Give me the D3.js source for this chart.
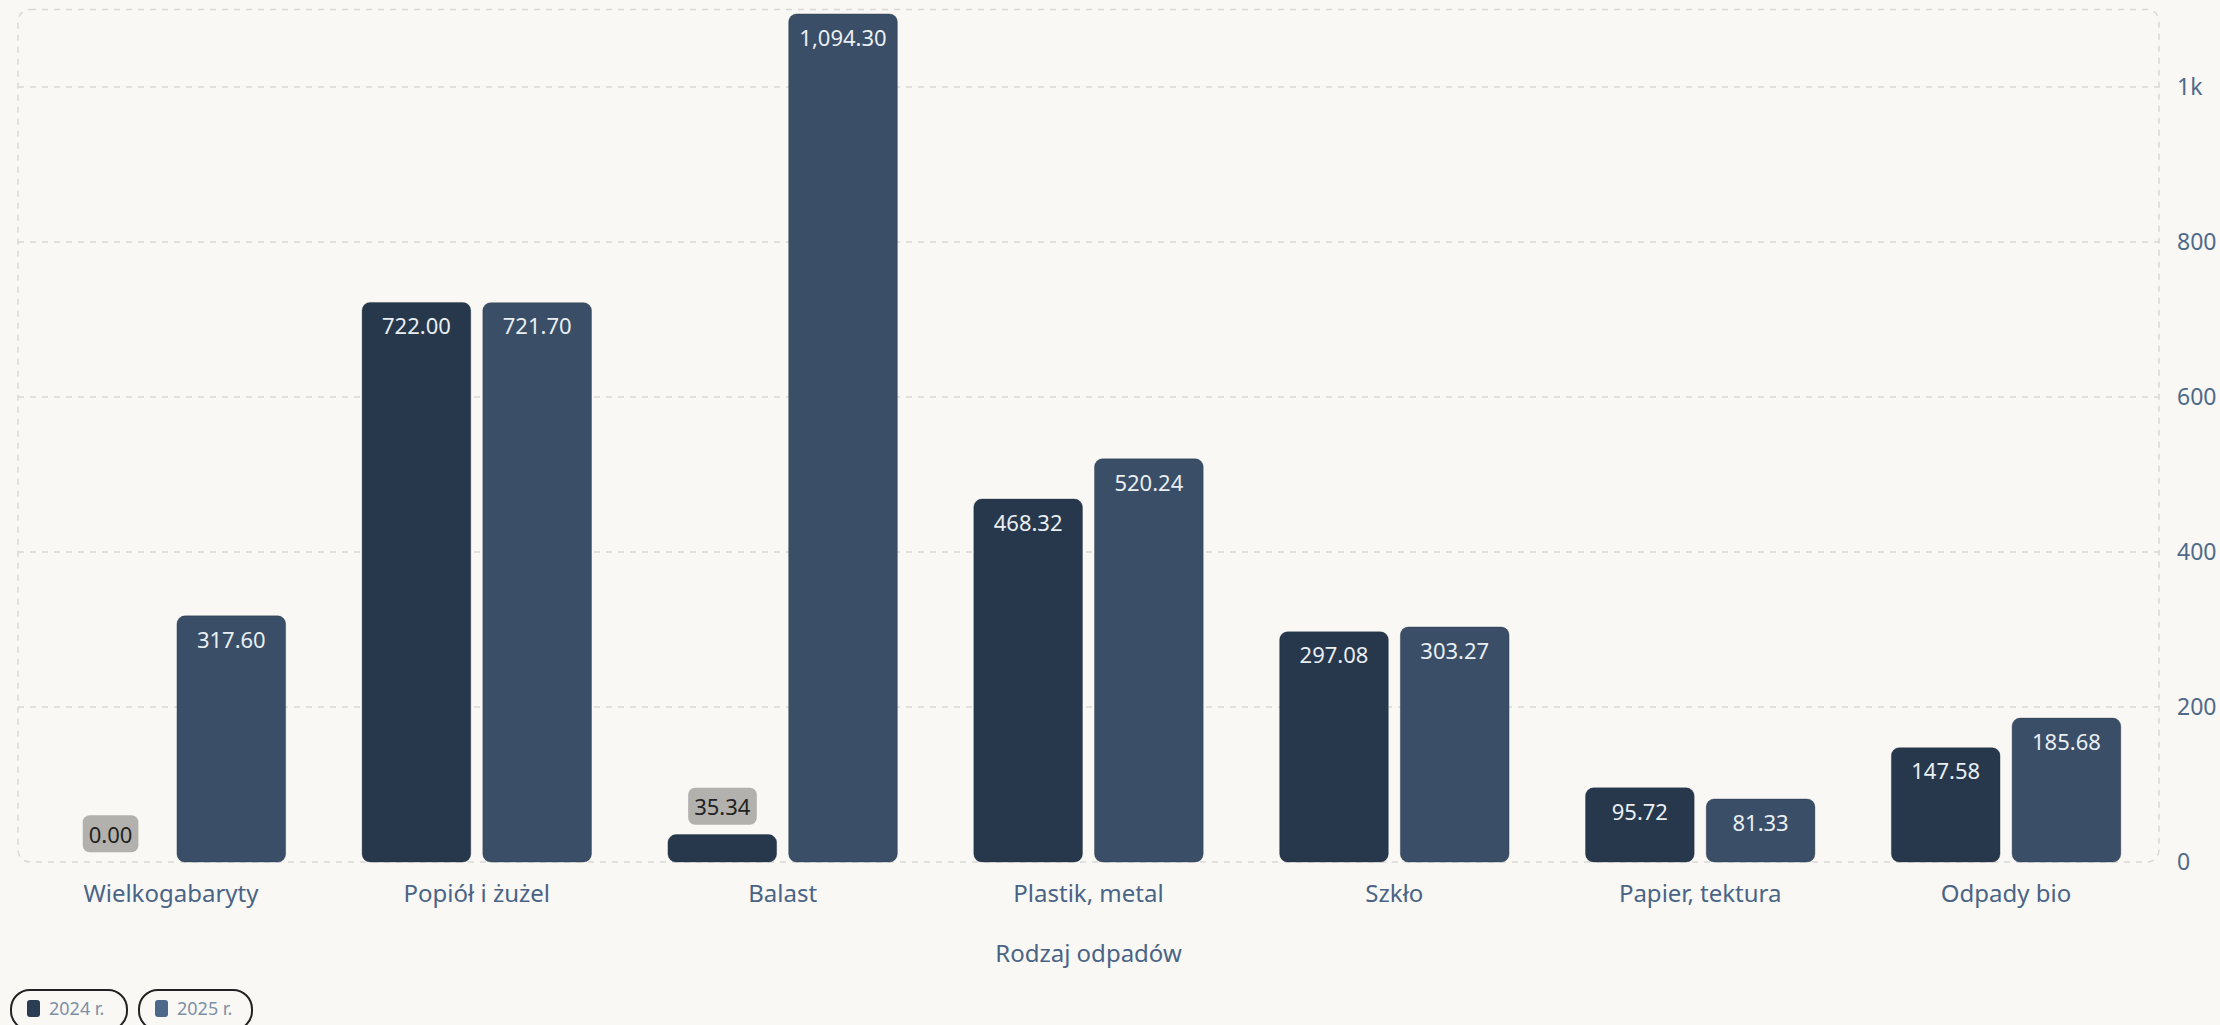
<!DOCTYPE html>
<html lang="pl">
<head>
  <meta charset="UTF-8">
  <title>Rodzaj odpadów</title>
  <script src="https://d3js.org/d3.v7.min.js"></script>
  <style>
    html, body {
      margin: 0;
      padding: 0;
      background: #f9f8f5;
    }
    svg {
      display: block;
      font-family: "Noto Sans", "Open Sans", sans-serif;
    }
  </style>
</head>
<body>
  <svg width="2220" height="1025"></svg>

  <script>
    // data
    const categories = ["Wielkogabaryty", "Popiół i żużel", "Balast", "Plastik, metal", "Szkło", "Papier, tektura", "Odpady bio"];
    const seriesNames = ["2024 r.", "2025 r."];
    const values2024 = [0.00, 722.00, 35.34, 468.32, 297.08, 95.72, 147.58];
    const values2025 = [317.60, 721.70, 1094.30, 520.24, 303.27, 81.33, 185.68];
    const yTicks = [0, 200, 400, 600, 800, 1000];
    const yTickLabels = ["0", "200", "400", "600", "800", "1k"];
    const colors = ["#27384c", "#3a4e67"];
    const swatchColors = ["#2b3d52", "#4d6888"];

    const plot = { left: 18, right: 2159, top: 9.5, bottom: 862 };

    const svg = d3.select("svg");

    const rows = categories.map((c, i) => ({
      category: c,
      values: [values2024[i], values2025[i]]
    }));

    const x0 = d3.scaleBand()
      .domain(categories)
      .range([plot.left, plot.right])
      .padding(0);

    const groupPad = x0.bandwidth() * 0.125;
    const x1 = d3.scaleBand()
      .domain(d3.range(seriesNames.length))
      .range([groupPad, x0.bandwidth() - groupPad])
      .paddingInner(0.1);

    const y = d3.scaleLinear()
      .domain([0, 1100])
      .range([plot.bottom, plot.top]);

    // grid lines
    svg.append("g")
      .selectAll("line")
      .data(yTicks.slice(1))
      .join("line")
      .attr("x1", plot.left)
      .attr("x2", plot.right)
      .attr("y1", d => y(d))
      .attr("y2", d => y(d))
      .attr("stroke", "#d9d8d5")
      .attr("stroke-width", 1.5)
      .attr("stroke-dasharray", "6,6");

    // plot frame
    svg.append("rect")
      .attr("x", plot.left)
      .attr("y", plot.top)
      .attr("width", plot.right - plot.left)
      .attr("height", plot.bottom - plot.top)
      .attr("rx", 12)
      .attr("fill", "none")
      .attr("stroke", "#d9d8d5")
      .attr("stroke-width", 1.5)
      .attr("stroke-dasharray", "6,6");

    // y axis labels on the right
    svg.append("g")
      .selectAll("text")
      .data(yTicks)
      .join("text")
      .attr("x", 2177)
      .attr("y", d => y(d))
      .attr("dy", "0.35em")
      .attr("fill", "#4f6a8a")
      .style("font-size", "23px")
      .text((d, i) => yTickLabels[i]);

    // bars
    const groups = svg.append("g")
      .selectAll("g")
      .data(rows)
      .join("g")
      .attr("transform", d => `translate(${x0(d.category)},0)`);

    const bars = groups.selectAll("g.bar")
      .data(d => d.values.map((v, i) => ({ v, i })))
      .join("g")
      .attr("class", "bar");

    bars.append("rect")
      .attr("x", d => x1(d.i))
      .attr("y", d => y(d.v))
      .attr("width", x1.bandwidth())
      .attr("height", d => y(0) - y(d.v))
      .attr("rx", 8)
      .attr("fill", d => colors[d.i])
      .attr("stroke", "#1f2d3d")
      .attr("stroke-opacity", 0.35)
      .attr("stroke-width", 1);

    const fmt = d3.format(",.2f");
    const inside = d => y(0) - y(d.v) > 50;

    // labels inside tall bars
    bars.filter(inside)
      .append("text")
      .attr("x", d => x1(d.i) + x1.bandwidth() / 2)
      .attr("y", d => y(d.v) + 24)
      .attr("dy", "0.35em")
      .attr("text-anchor", "middle")
      .attr("fill", "#e9eef3")
      .style("font-size", "22px")
      .text(d => fmt(d.v));

    // labels above short bars, on a grey badge
    const outside = bars.filter(d => !inside(d));
    outside.append("rect")
      .attr("class", "badge")
      .attr("fill", "#b3b1ad")
      .attr("rx", 7);
    outside.append("text")
      .attr("x", d => x1(d.i) + x1.bandwidth() / 2)
      .attr("y", d => y(d.v) - 27)
      .attr("dy", "0.35em")
      .attr("text-anchor", "middle")
      .attr("fill", "#222")
      .style("font-size", "22px")
      .text(d => fmt(d.v));
    outside.each(function() {
      const t = d3.select(this).select("text").node().getBBox();
      d3.select(this).select("rect.badge")
        .attr("x", t.x - 6)
        .attr("y", t.y + t.height / 2 - 18.5)
        .attr("width", t.width + 12)
        .attr("height", 37);
    });

    // category labels
    svg.append("g")
      .selectAll("text")
      .data(categories)
      .join("text")
      .attr("x", d => x0(d) + x0.bandwidth() / 2)
      .attr("y", 902)
      .attr("text-anchor", "middle")
      .attr("fill", "#4a6486")
      .style("font-size", "24px")
      .text(d => d);

    svg.append("text")
      .attr("x", (plot.left + plot.right) / 2)
      .attr("y", 962)
      .attr("text-anchor", "middle")
      .attr("fill", "#4a6486")
      .style("font-size", "24px")
      .text("Rodzaj odpadów");

    // legend pills
    const legendX = [11, 139];
    const legend = svg.append("g")
      .selectAll("g")
      .data(seriesNames)
      .join("g")
      .attr("transform", (d, i) => `translate(${legendX[i]},990)`);

    legend.append("rect")
      .attr("width", (d, i) => i === 0 ? 116 : 113)
      .attr("height", 40)
      .attr("rx", 19)
      .attr("fill", "none")
      .attr("stroke", "#222")
      .attr("stroke-width", 2);

    legend.append("rect")
      .attr("x", 16)
      .attr("y", 10)
      .attr("width", 13)
      .attr("height", 17)
      .attr("rx", 3)
      .attr("fill", (d, i) => swatchColors[i]);

    legend.append("text")
      .attr("x", 38)
      .attr("y", 25)
      .attr("fill", "#7d90a6")
      .style("font-size", "18px")
      .text(d => d);
  </script>
</body>
</html>
